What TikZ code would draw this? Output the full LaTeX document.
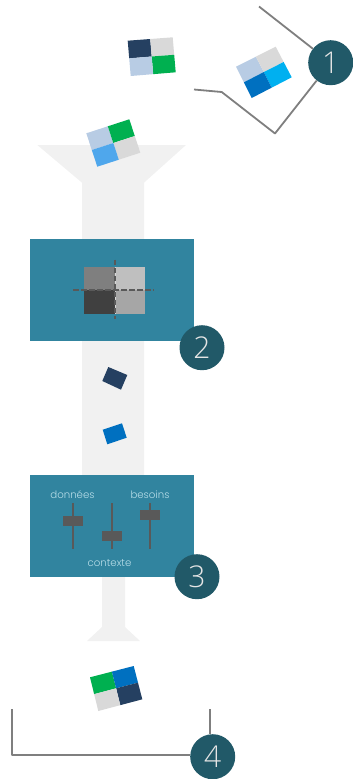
\documentclass[tikz,border=0pt]{standalone}
\usetikzlibrary{calc}
\usepackage{fontspec}
\setmainfont{Open Sans Light}
\newfontfamily\labelfont{Poppins Light}
\begin{document}
\begin{tikzpicture}[x=1pt,y=-1pt,
  flowshape/.style={fill=flowgray,draw=none},
  panel/.style={fill=panelblue,draw=none},
  badge/.style={circle,fill=badgeblue,draw=none,minimum size=45pt,inner sep=0pt,text=white!90!black,font=\fontsize{30}{32}\selectfont},
  leader/.style={draw=leadergray,line width=1.8pt,line join=round},
  sliderlabel/.style={text=labelblue,font=\labelfont\fontsize{10.2}{12}\selectfont,inner sep=0pt},
  track/.style={draw=handlegray,line width=1.8pt},
  handle/.style={fill=handlegray,draw=none},
  guide/.style={draw=handlegray,line width=1.7pt,dash pattern=on 5.5pt off 2.5pt},
  guidehalo/.style={draw=white!85!black,line width=1.2pt}]
\definecolor{flowgray}{HTML}{F1F1F1}
\definecolor{panelblue}{HTML}{31849F}
\definecolor{badgeblue}{HTML}{215968}
\definecolor{leadergray}{HTML}{7F7F7F}
\definecolor{labelblue}{HTML}{B7DDE8}
\definecolor{handlegray}{HTML}{595959}
\definecolor{navyq}{HTML}{254061}
\definecolor{lgrayq}{HTML}{D9D9D9}
\definecolor{lblueq}{HTML}{B8CCE4}
\definecolor{greenq}{HTML}{00B050}
\definecolor{blueq}{HTML}{0070C0}
\definecolor{cyanq}{HTML}{00B0F0}
\definecolor{skyq}{HTML}{4FA7EC}
\useasboundingbox (0,0) rectangle (353,779);
\newcommand{\quadcard}[8]{%
  \coordinate (qa) at #1; \coordinate (qb) at #2; \coordinate (qc) at #3; \coordinate (qd) at #4;
  \fill[#5] (qa) -- ($(qa)!.5!(qb)$) -- ($(qa)!.5!(qc)$) -- ($(qd)!.5!(qa)$) -- cycle;
  \fill[#6] ($(qa)!.5!(qb)$) -- (qb) -- ($(qb)!.5!(qc)$) -- ($(qa)!.5!(qc)$) -- cycle;
  \fill[#7] ($(qa)!.5!(qc)$) -- ($(qb)!.5!(qc)$) -- (qc) -- ($(qd)!.5!(qc)$) -- cycle;
  \fill[#8] ($(qd)!.5!(qa)$) -- ($(qa)!.5!(qc)$) -- ($(qd)!.5!(qc)$) -- (qd) -- cycle;}
% flow shapes
\fill[flowshape] (37.3,145) -- (186,145) -- (144,182.7) -- (144,475) -- (82,475) -- (82,182.7) -- cycle;
\fill[flowshape] (102,577) -- (125,577) -- (125,627) -- (140,641) -- (87,641) -- (102,627) -- cycle;
% leaders
\node[badge] (b1) at (330.7,62.7) {1};
\node[badge] (b4) at (212.7,756.7) {4};
\coordinate (l1a) at (259,6.5);
\coordinate (l2a) at (275,133.5);
\coordinate (l2b) at (221.7,92);
\coordinate (l2c) at (194,89.5);
\coordinate (l4a) at (12,709);
\coordinate (l4b) at (12,755);
\coordinate (l4c) at (210,709);
\draw[leader] (l1a) -- (b1);
\draw[leader] (b1) -- (l2a) -- (l2b) -- (l2c);
\draw[leader] (l4a) -- (l4b) -- (b4.west |- l4b);
\draw[leader] (l4c) -- (l4c |- b4.north);
% cards
\quadcard{(127.7,40.7)}{(172.7,37.3)}{(175.7,72.3)}{(130.7,76)}{navyq}{lgrayq}{greenq}{lblueq}
\quadcard{(236,66.7)}{(275.7,46.7)}{(291.7,77.3)}{(251.7,98)}{lblueq}{lgrayq}{cyanq}{blueq}
\quadcard{(86.3,133.3)}{(129.3,119.3)}{(140.3,152.7)}{(97.3,166.7)}{lblueq}{greenq}{lgrayq}{skyq}
\quadcard{(90,677.3)}{(133.7,666)}{(142.3,699.3)}{(98.3,711)}{greenq}{blueq}{navyq}{lgrayq}
% panel 2
\fill[panel] (30,239) rectangle (194,341);
\fill[leadergray] (84,267.3) rectangle (115,290);
\fill[black!25] (115,267.3) rectangle (145,290);
\fill[black!75] (84,290) rectangle (115,314);
\fill[black!35] (115,290) rectangle (145,314);
\coordinate (g1) at (114.7,259.5); \coordinate (g2) at (114.7,319);
\coordinate (g3) at (73,290); \coordinate (g4) at (154,290);
\draw[guidehalo] (115.6,267.3) -- (115.6,314);
\draw[guide] (g1) -- (g2);
\draw[guide] (g3) -- (g4);
\node[badge] (b2) at (202,347.7) {2};
% squares
\fill[navyq] (108.3,367) -- (127.3,375) -- (121,389.7) -- (102.3,381) -- cycle;
\fill[blueq] (102.7,429.7) -- (122,423.3) -- (126.7,437.7) -- (107.3,444.3) -- cycle;
% panel 3
\fill[panel] (30,475) rectangle (194,577);
\node[sliderlabel] (t1) at (72.5,495) {données};
\node[sliderlabel] (t2) at (150,495) {besoins};
\node[sliderlabel] (t3) at (109.5,563.5) {contexte};
\draw[track] (72.7,503) -- (72.7,549);
\draw[track] (111.7,503) -- (111.7,549);
\draw[track] (150.3,503) -- (150.3,549);
\fill[handle] (63,516) rectangle (83,526);
\fill[handle] (102,531) rectangle (122,541);
\fill[handle] (140,510) rectangle (160,520);
\node[badge] (b3) at (197,576.7) {3};
\end{tikzpicture}
\end{document}
